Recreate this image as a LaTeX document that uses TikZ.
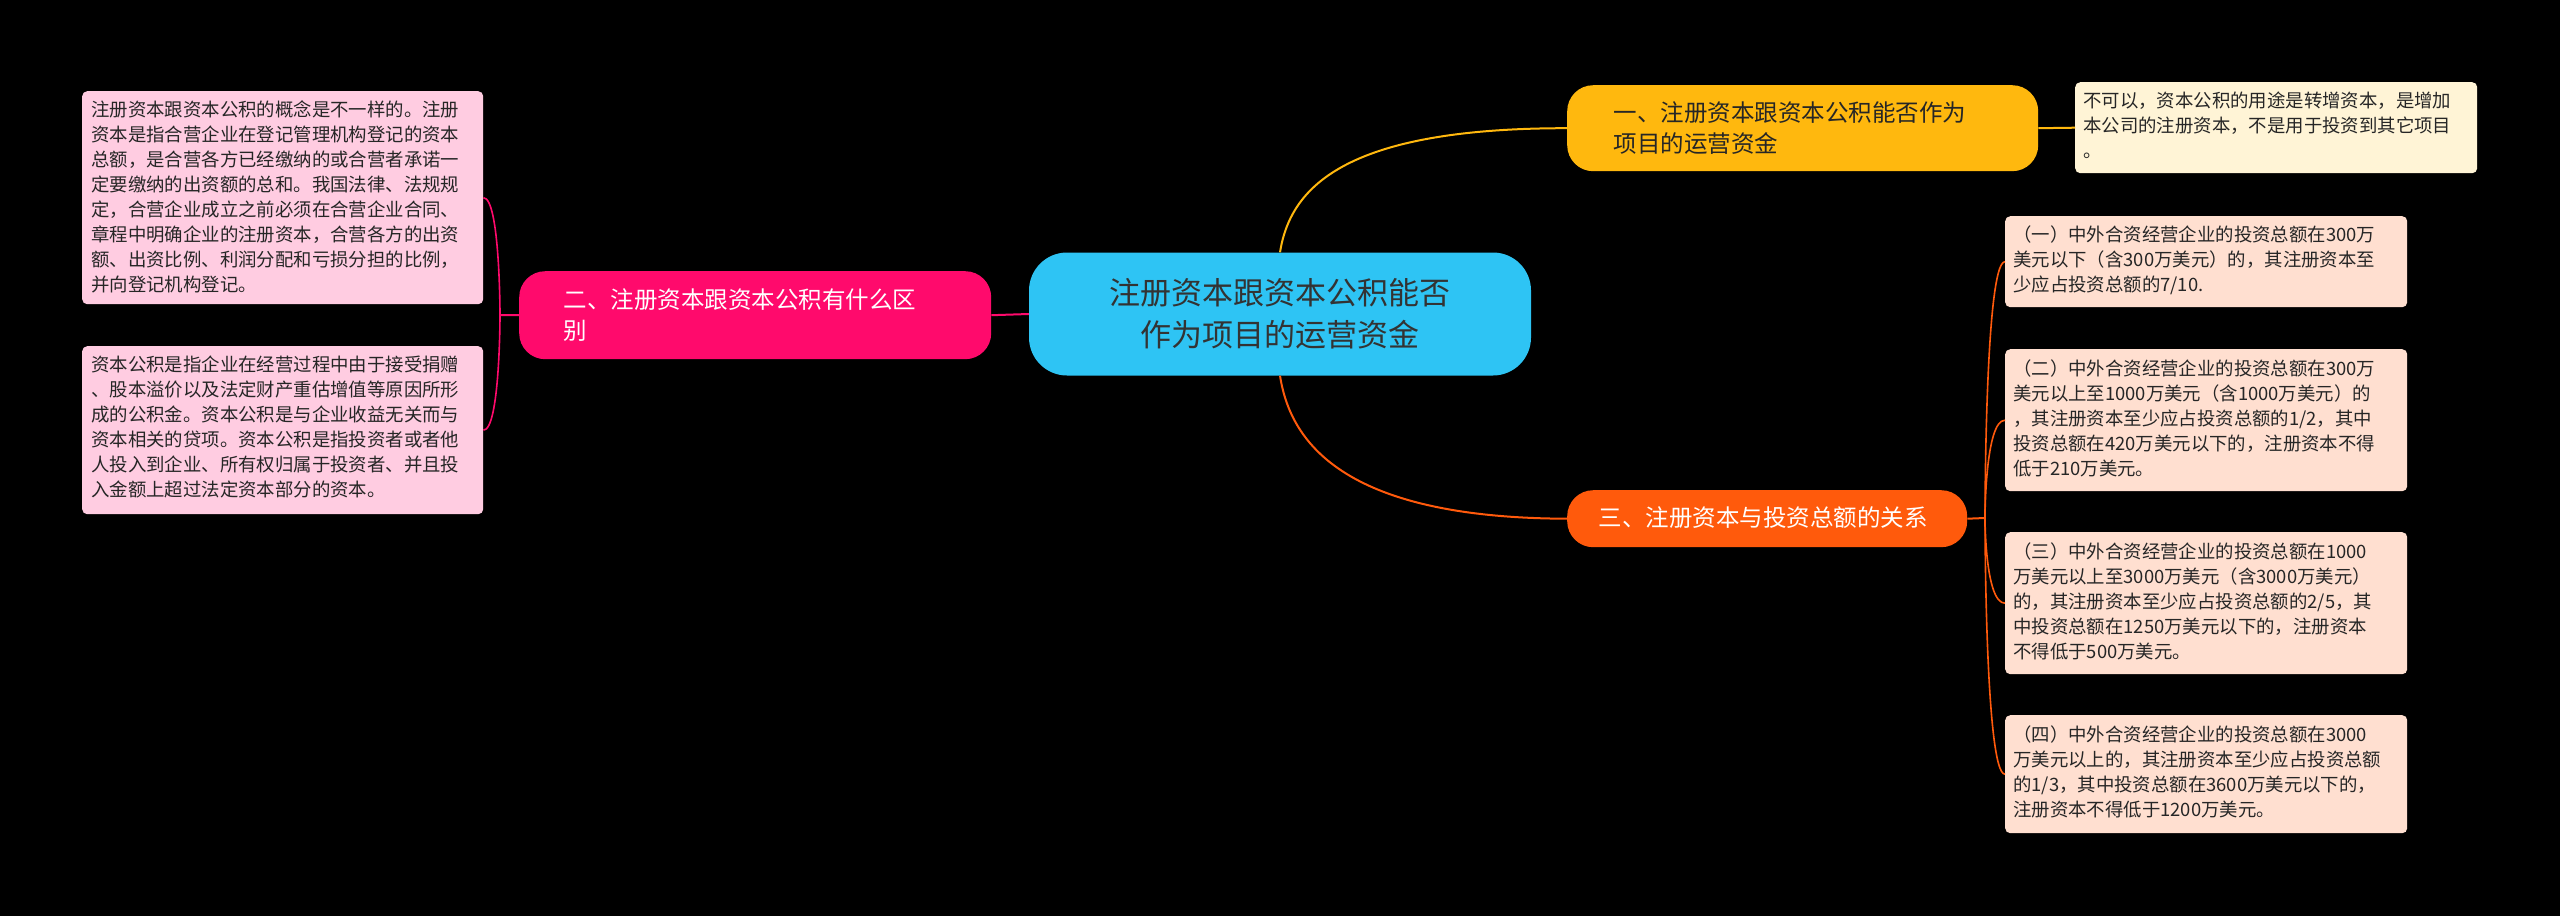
\documentclass[tikz,border=0pt]{standalone}
\usepackage{fontspec}
\setmainfont{Noto Sans CJK SC}
\begin{document}
\begin{tikzpicture}[x=1pt,y=-1pt,
  leafbox/.style={draw=none,rounded corners=5pt,align=left,inner sep=0pt,anchor=north west,font=\fontsize{17.5}{25}\selectfont,text=black!85},
  leaftext/.style={anchor=north west,align=left,inner sep=0pt,font=\fontsize{18.4}{25}\selectfont,text=black!85},
  branch/.style={rounded corners=26pt,inner sep=0pt,anchor=north west,align=left,font=\fontsize{23}{31}\selectfont},
  btext/.style={anchor=west,font=\fontsize{23.5}{31}\selectfont,align=left},
  conn/.style={line width=2pt}]
\fill[black] (0,0) rectangle (2560,916);
\useasboundingbox (0,0) rectangle (2560,916);
\definecolor{cyanc}{HTML}{2EC4F4}
\definecolor{yel}{HTML}{FFB80E}
\definecolor{org}{HTML}{FF5A0C}
\definecolor{pnk}{HTML}{FF0A6C}
\definecolor{lyel}{HTML}{FFF4D6}
\definecolor{lorg}{HTML}{FFDFD0}
\definecolor{lpnk}{HTML}{FFCCE1}
% center
\node[fill=cyanc,rounded corners=38pt,minimum width=502pt,minimum height=123pt,align=center,font=\fontsize{31}{42}\selectfont,text=black!80] (c) at (1280,314) {注册资本跟资本公积能否\\作为项目的运营资金};
% branch nodes
\node[branch,fill=yel,minimum width=471pt,minimum height=86pt] (n1) at (1567,85) {};
\node[btext,text=black!85] at (1610,128) {一、注册资本跟资本公积能否作为\\项目的运营资金};
\node[branch,fill=org,minimum width=400pt,minimum height=57pt] (n3) at (1567,490) {};
\node[btext,text=white] at (1595,518) {三、注册资本与投资总额的关系};
\node[branch,fill=pnk,minimum width=472pt,minimum height=88pt] (n2) at (519,271) {};
\node[btext,text=white] at (560,315) {二、注册资本跟资本公积有什么区\\别};
% leaves
\node[leafbox,fill=lyel,minimum width=402pt,minimum height=91pt] (l1) at (2075,82) {};
\node[leaftext] at (2083,92) {不可以，资本公积的用途是转增资本，是增加\\本公司的注册资本，不是用于投资到其它项目\\。};
\node[leafbox,fill=lorg,minimum width=402pt,minimum height=91pt] (a1) at (2005,216) {};
\node[leaftext] at (2013,226) {（一）中外合资经营企业的投资总额在300万\\美元以下（含300万美元）的，其注册资本至\\少应占投资总额的7/10.};
\node[leafbox,fill=lorg,minimum width=402pt,minimum height=142pt] (a2) at (2005,349) {};
\node[leaftext] at (2013,360) {（二）中外合资经营企业的投资总额在300万\\美元以上至1000万美元（含1000万美元）的\\，其注册资本至少应占投资总额的1/2，其中\\投资总额在420万美元以下的，注册资本不得\\低于210万美元。};
\node[leafbox,fill=lorg,minimum width=402pt,minimum height=142pt] (a3) at (2005,532) {};
\node[leaftext] at (2013,543) {（三）中外合资经营企业的投资总额在1000\\万美元以上至3000万美元（含3000万美元）\\的，其注册资本至少应占投资总额的2/5，其\\中投资总额在1250万美元以下的，注册资本\\不得低于500万美元。};
\node[leafbox,fill=lorg,minimum width=402pt,minimum height=118pt] (a4) at (2005,715) {};
\node[leaftext] at (2013,726) {（四）中外合资经营企业的投资总额在3000\\万美元以上的，其注册资本至少应占投资总额\\的1/3，其中投资总额在3600万美元以下的，\\注册资本不得低于1200万美元。};
\node[leafbox,fill=lpnk,minimum width=401pt,minimum height=213pt] (b1) at (82,91) {};
\node[leaftext] at (91,101) {注册资本跟资本公积的概念是不一样的。注册\\资本是指合营企业在登记管理机构登记的资本\\总额，是合营各方已经缴纳的或合营者承诺一\\定要缴纳的出资额的总和。我国法律、法规规\\定，合营企业成立之前必须在合营企业合同、\\章程中明确企业的注册资本，合营各方的出资\\额、出资比例、利润分配和亏损分担的比例，\\并向登记机构登记。};
\node[leafbox,fill=lpnk,minimum width=401pt,minimum height=168pt] (b2) at (82,346) {};
\node[leaftext] at (91,356) {资本公积是指企业在经营过程中由于接受捐赠\\、股本溢价以及法定财产重估增值等原因所形\\成的公积金。资本公积是与企业收益无关而与\\资本相关的贷项。资本公积是指投资者或者他\\人投入到企业、所有权归属于投资者、并且投\\入金额上超过法定资本部分的资本。};
% connectors
\draw[conn,yel] (c.north) .. controls (1290,190) and (1340,128) .. (n1.west);
\draw[conn,yel] (n1.east) -- (l1.west);
\draw[conn,org] (c.south) .. controls (1290,440) and (1340,518) .. (n3.west);
\draw[conn,pnk] (c.west) -- (n2.east);
\coordinate (j3) at (1985,518);
\draw[conn,org] (n3.east) -- (j3);
\foreach \l in {a1,a2,a3,a4}{
  \draw[conn,org,line width=1.6pt] (j3) .. controls (1985,518) and (1985,0|-\l.west) .. (\l.west);
}
\coordinate (j2) at (500,315);
\draw[conn,pnk] (n2.west) -- (j2);
\foreach \l in {b1,b2}{
  \draw[conn,pnk,line width=1.6pt] (j2) .. controls (500,315) and (500,0|-\l.east) .. (\l.east);
}
\end{tikzpicture}
\end{document}
